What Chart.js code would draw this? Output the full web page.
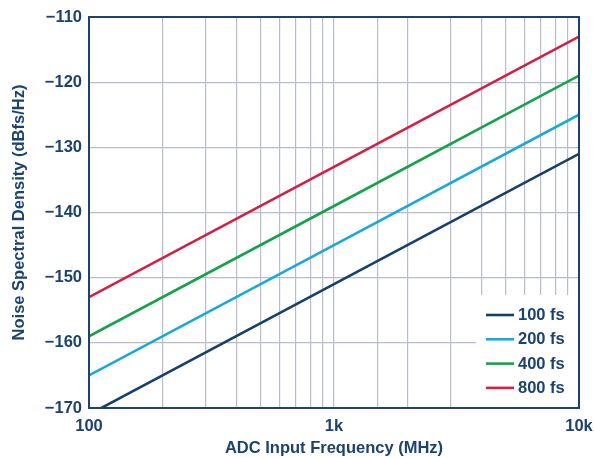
<!DOCTYPE html>
<html>
<head>
<meta charset="utf-8">
<script src="https://cdn.jsdelivr.net/npm/chart.js@4/dist/chart.umd.min.js"></script>
<style>
  html, body { margin: 0; padding: 0; background: #fff; }
  #wrap { width: 594px; height: 458px; }
</style>
</head>
<body>
<div id="wrap"><canvas id="nsdChart" width="594" height="458"></canvas></div>
<script>
// Data (straight lines on log-x, so endpoints + middle)
const freqs = [100, 1000, 10000];
const seriesNames = ["100 fs", "200 fs", "400 fs", "800 fs"];
const nsd100 = [-171, -151, -131];
const nsd200 = [-165, -145, -125];
const nsd400 = [-159, -139, -119];
const nsd800 = [-153, -133, -113];
const seriesColors = ["#163f6b", "#1aa8d9", "#16a24a", "#d21f43"];
const xTickLabels = { 100: "100", 1000: "1k", 10000: "10k" };
const yTicks = [-110, -120, -130, -140, -150, -160, -170];

const NAVY = "#1c426e";
const GRID = "#b9bcd0";
const FONT = "'Liberation Sans', Arial, sans-serif";
const FSIZE = 16.5;

const allSeries = [nsd100, nsd200, nsd400, nsd800];
const datasets = allSeries.map((vals, i) => ({
  label: seriesNames[i],
  data: vals.map((v, j) => ({ x: freqs[j], y: v })),
  borderColor: seriesColors[i],
  borderWidth: 2.6,
  pointRadius: 0,
  tension: 0,
  fill: false
}));

// Legend inside the plot, white box that hides the grid behind it
const boxLegend = {
  id: "boxLegend",
  afterDatasetsDraw(chart) {
    const { ctx, chartArea } = chart;
    const left = 476, top = 295;
    ctx.save();
    ctx.fillStyle = "#fff";
    ctx.fillRect(left, top, chartArea.right - left, chartArea.bottom - top);
    ctx.font = "bold " + FSIZE + "px " + FONT;
    ctx.textBaseline = "middle";
    seriesNames.forEach((name, i) => {
      const y = 315 + i * 24.3;
      ctx.strokeStyle = seriesColors[i];
      ctx.lineWidth = 2.6;
      ctx.beginPath();
      ctx.moveTo(486, y);
      ctx.lineTo(514, y);
      ctx.stroke();
      ctx.fillStyle = NAVY;
      ctx.fillText(name, 518, y + 0.5);
    });
    ctx.restore();
  },
  afterDraw(chart) {
    // dark frame round the plot
    const { ctx, chartArea } = chart;
    ctx.save();
    ctx.strokeStyle = NAVY;
    ctx.lineWidth = 2;
    ctx.strokeRect(chartArea.left, chartArea.top, chartArea.right - chartArea.left, chartArea.bottom - chartArea.top);
    ctx.restore();
  }
};

new Chart(document.getElementById("nsdChart"), {
  type: "line",
  data: { datasets },
  options: {
    responsive: false,
    animation: false,
    layout: { padding: { top: 17, right: 15, bottom: 0, left: 0 } },
    plugins: { legend: { display: false }, tooltip: { enabled: false } },
    scales: {
      x: {
        type: "logarithmic",
        min: 100,
        max: 10000,
        grid: { color: GRID, lineWidth: 1.2, drawTicks: false },
        border: { display: false },
        ticks: {
          autoSkip: false,
          maxRotation: 0,
          padding: 9,
          color: NAVY,
          font: { family: FONT, size: FSIZE, weight: "bold" },
          callback: v => xTickLabels[v] || ""
        },
        title: {
          display: true,
          text: "ADC Input Frequency (MHz)",
          color: NAVY,
          font: { family: FONT, size: FSIZE, weight: "bold" },
          padding: { top: 2, bottom: 0 }
        },
        afterFit: s => {
          s.height = 50;
          s.paddingLeft = 0;
          s.paddingRight = 0;
        }
      },
      y: {
        min: -170,
        max: -110,
        afterBuildTicks: s => { s.ticks = yTicks.map(v => ({ value: v })); },
        grid: { color: GRID, lineWidth: 1.2, drawTicks: false },
        border: { display: false },
        ticks: {
          padding: 7,
          color: NAVY,
          font: { family: FONT, size: FSIZE, weight: "bold" },
          callback: v => "\u2212" + Math.abs(v)
        },
        title: {
          display: true,
          text: "Noise Spectral Density (dBfs/Hz)",
          color: NAVY,
          font: { family: FONT, size: FSIZE, weight: "bold" },
          padding: { top: 10, bottom: 0 }
        },
        afterFit: s => {
          s.width = 89;
          s.paddingTop = 0;
          s.paddingBottom = 0;
        }
      }
    }
  },
  plugins: [boxLegend]
});
</script>
</body>
</html>
